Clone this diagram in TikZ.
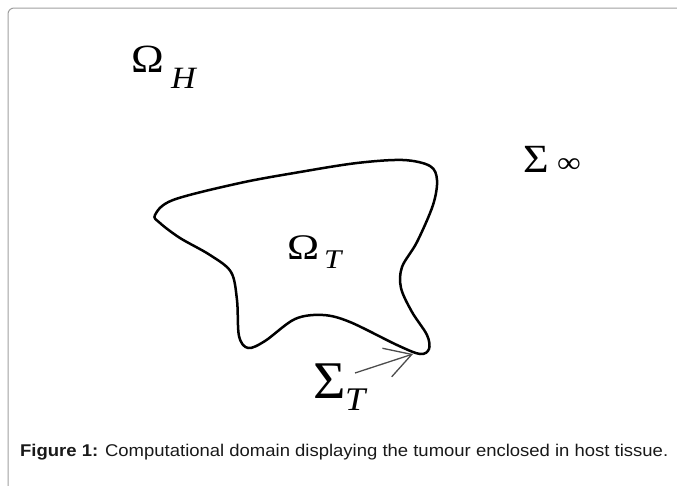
\documentclass[tikz,border=0pt]{standalone}
\usepackage{fontspec}
\usepackage{graphicx}
\setmainfont{Liberation Serif}
\newfontfamily\capfont{Liberation Sans}
\usetikzlibrary{arrows.meta}
\tikzset{
  lbl/.style={inner sep=0pt, anchor=base west, text=black},
  capt/.style={inner sep=0pt, anchor=base west, text=black!90, font=\capfont\fontsize{17}{17}\selectfont},
  frame/.style={draw=gray!75, line width=1pt, rounded corners=6pt},
  boundary/.style={line width=2.5pt, line join=round},
  pointer/.style={draw=black!70, line width=1.3pt, -{Straight Barb[length=26pt,width=30pt,line width=1.3pt]}}
}
\begin{document}
\begin{tikzpicture}[x=1pt,y=-1pt]
\useasboundingbox (0,0) rectangle (677,485);
\draw[frame] (8,490) -- (8,8) -- (690,8);
% tumour boundary
\draw[boundary] plot[smooth cycle, tension=0.55] coordinates {
 (155,215) (173,200) (240,183) (300,172) (357,163) (403,160) (430,166)
 (437,180) (433,205) (417,242) (402,267) (401,288) (412,312) (427,335)
 (429,349) (420,354) (397,345) (350,322) (323,315) (295,319) (265,341)
 (248,348) (239,336) (237,300) (231,272) (210,255) (180,238) (160,223)};
% labels
\node[lbl] (omegaH) at (131,72) {\scalebox{1.1}[1]{\fontsize{40}{40}\selectfont Ω}};
\node[lbl] (omegaHs) at (171,88) {\scalebox{1.1}[1]{\fontsize{31}{31}\selectfont\itshape H}};
\node[lbl] (omegaT) at (287,259) {\scalebox{1.2}[1]{\fontsize{36}{36}\selectfont Ω}};
\node[lbl] (omegaTs) at (324,268) {\scalebox{1.15}[1]{\fontsize{27}{27}\selectfont\itshape T}};
\node[lbl] (sigmaI) at (523,172) {\scalebox{1.1}[1]{\fontsize{40}{40}\selectfont Σ}};
\node[lbl] (sigmaIs) at (557,172) {\scalebox{1.15}[1]{\fontsize{29}{29}\selectfont ∞}};
\node[lbl] (sigmaT) at (313,398) {\scalebox{1.05}[1]{\fontsize{53}{53}\selectfont Σ}};
\node[lbl] (sigmaTs) at (345,410) {\scalebox{1.1}[1]{\fontsize{33}{33}\selectfont\itshape T}};
% pointer arrow
\coordinate (astart) at (355,373);
\coordinate (atip) at (413,354);
\draw[pointer] (astart) -- (atip);
% caption
\node[capt] (cap) at (20,456) {\resizebox{648pt}{\height}{\textbf{Figure 1:} Computational domain displaying the tumour enclosed in host tissue.}};
\end{tikzpicture}
\end{document}
